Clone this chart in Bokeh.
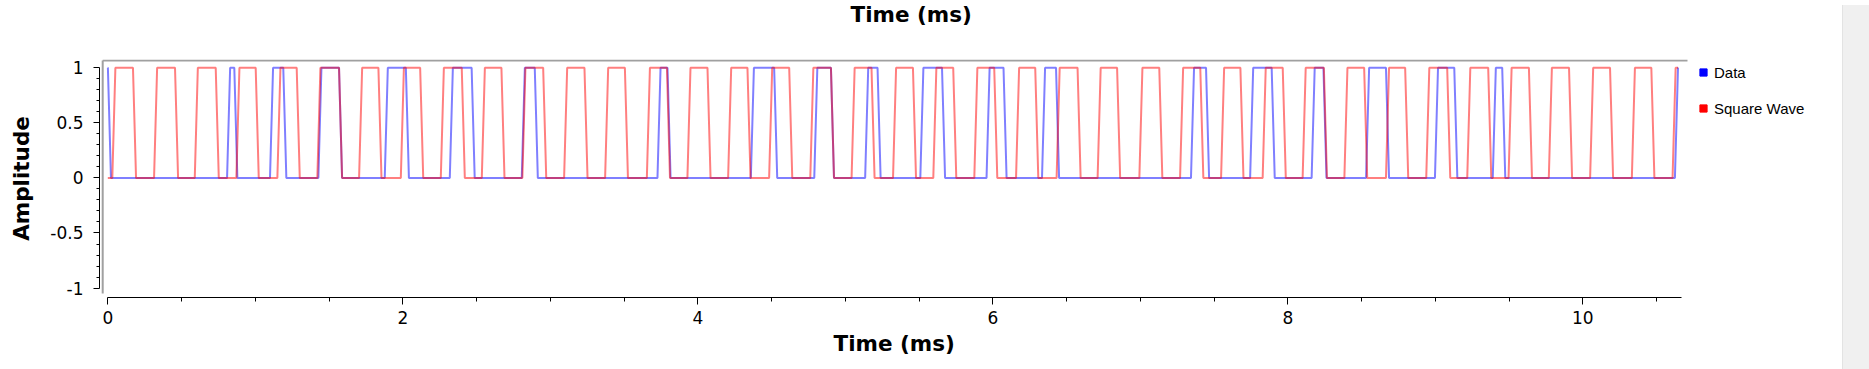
from bokeh.plotting import figure
from bokeh.models import Range1d, FixedTicker, Legend, LegendItem, Div, Title
from bokeh.layouts import row
from bokeh.embed import file_html
from bokeh.resources import INLINE

# ---------------- data ----------------
series_names = ["Data", "Square Wave"]
series_colors = ["#0000FF", "#FF0000"]

# Data: starts high, toggles at each listed time (ms)
data_start_level = 1
data_edges_ms = [0.011, 0.819, 0.868, 1.110, 1.200, 1.438, 1.578, 1.888, 2.031,
                 2.329, 2.477, 2.817, 2.905, 3.737, 3.805, 4.370, 4.528, 4.800,
                 4.913, 5.145, 5.229, 5.519, 5.666, 5.968, 6.083, 6.344, 6.439,
                 7.354, 7.456, 7.755, 7.901, 8.172, 8.252, 8.541, 8.676, 9.008,
                 9.139, 9.400, 9.464, 10.635]

# Square wave: starts low, toggles at each listed time (ms)
square_start_level = 0
square_edges_ms = [0.041, 0.181, 0.324, 0.466, 0.600, 0.742, 0.882, 1.013, 1.160,
                   1.291, 1.431, 1.578, 1.714, 1.845, 1.997, 2.128, 2.268, 2.410,
                   2.546, 2.679, 2.821, 2.962, 3.104, 3.242, 3.382, 3.516, 3.665,
                   3.801, 3.940, 4.076, 4.216, 4.347, 4.494, 4.630, 4.773, 4.913,
                   5.053, 5.188, 5.334, 5.469, 5.607, 5.742, 5.885, 6.020, 6.168,
                   6.298, 6.443, 6.585, 6.721, 6.853, 7.004, 7.139, 7.280, 7.417,
                   7.558, 7.689, 7.840, 7.976, 8.111, 8.255, 8.394, 8.528, 8.676,
                   8.806, 8.949, 9.091, 9.227, 9.369, 9.507, 9.645, 9.780, 9.917,
                   10.060, 10.195, 10.343, 10.475, 10.619]

t_end_ms = 10.646          # last sample
edge_half_ms = 0.0104      # half of one sample (48 kHz)
axis_end_ms = 10.667

x_ticks = [0, 2, 4, 6, 8, 10]
x_minor_ticks = [0.5, 1, 1.5, 2.5, 3, 3.5, 4.5, 5, 5.5, 6.5, 7, 7.5, 8.5, 9, 9.5, 10.5]
y_ticks = [-1, -0.5, 0, 0.5, 1]
y_tick_labels = ["-1", "-0.5", "0", "0.5", "1"]
y_minor_ticks = [-0.9, -0.8, -0.7, -0.6, -0.4, -0.3, -0.2, -0.1,
                 0.1, 0.2, 0.3, 0.4, 0.6, 0.7, 0.8, 0.9]

title_text = "Time (ms)"
x_label = "Time (ms)"
y_label = "Amplitude"


def step_path(start, edges, t_end, half):
    xs, ys, lvl = [0.0], [float(start)], start
    for t in edges:
        xs.extend([t - half, t + half])
        ys.extend([lvl, 1 - lvl])
        lvl = 1 - lvl
    xs.append(t_end)
    ys.append(lvl)
    return xs, ys


# ---------------- figure ----------------
# the frame runs to the right edge of the figure so the legend (inside it) is not clipped
W, H = 1837, 369
X0, X1 = -0.0563, 11.7268
Y0, Y1 = -1.0853, 1.0744
CANVAS_RIGHT = 10.7098     # right end of the grey canvas border

p = figure(width=W, height=H, output_backend="svg", toolbar_location=None,
           x_range=Range1d(X0, X1), y_range=Range1d(Y0, Y1),
           min_border_left=99, min_border_right=0,
           min_border_top=59, min_border_bottom=72)
p.outline_line_color = None
p.xgrid.visible = False
p.ygrid.visible = False
p.background_fill_color = "white"
p.border_fill_color = "white"

# canvas frame lines (top and left, grey)
FRAME_X = -0.0346
FRAME_TOP = 1.0653
FRAME_BOTTOM = -1.049
p.segment(x0=[FRAME_X, FRAME_X], y0=[FRAME_TOP, FRAME_TOP],
          x1=[CANVAS_RIGHT, FRAME_X], y1=[FRAME_TOP, FRAME_BOTTOM],
          line_color="#a0a0a0", line_width=2)

dx, dy = step_path(data_start_level, data_edges_ms, t_end_ms, edge_half_ms)
sx, sy = step_path(square_start_level, square_edges_ms, t_end_ms, edge_half_ms)
p.line(dx, dy, line_color=series_colors[0], line_width=2, line_alpha=0.5)
p.line(sx, sy, line_color=series_colors[1], line_width=2, line_alpha=0.5)

# legend keys (square markers; their single point lies outside the visible range)
OFF = -100
k0 = p.scatter(x=[OFF], y=[OFF], marker="square", color=series_colors[0], size=7)
k1 = p.scatter(x=[OFF], y=[OFF], marker="square", color=series_colors[1], size=7)
legend = Legend(items=[LegendItem(label=series_names[0], renderers=[k0]),
                       LegendItem(label=series_names[1], renderers=[k1])],
                location=(1595, 180), orientation="vertical",
                border_line_color=None, background_fill_alpha=0,
                padding=0, margin=0, spacing=18,
                glyph_width=18, glyph_height=18, label_height=18,
                label_standoff=2,
                label_text_font="Liberation Sans", label_text_font_size="15px",
                label_text_color="black")
p.add_layout(legend, "center")

# top title: a white (invisible) spacer next to the frame, then the title above it
p.title.text = ""
spacer = Title(text=".", text_color="white", text_font_size="10px", standoff=21)
p.add_layout(spacer, "above")
top_title = Title(text=title_text, align="left", offset=751, standoff=0,
                  vertical_align="top", text_font="DejaVu Sans",
                  text_font_size="21.5px", text_font_style="bold",
                  text_color="black")
p.add_layout(top_title, "above")

# axes
xa = p.xaxis[0]
ya = p.yaxis[0]
xa.ticker = FixedTicker(ticks=x_ticks, minor_ticks=x_minor_ticks)
ya.ticker = FixedTicker(ticks=y_ticks, minor_ticks=y_minor_ticks)
ya.major_label_overrides = {k: v for k, v in zip(y_ticks, y_tick_labels)}
xa.bounds = (0, axis_end_ms)
ya.bounds = (-1, 1)
ya.axis_label = y_label
for ax in (xa, ya):
    ax.axis_line_color = "black"
    ax.axis_line_width = 1
    ax.major_tick_line_color = "black"
    ax.minor_tick_line_color = "black"
    ax.major_tick_in = 0
    ax.minor_tick_in = 0
    ax.major_label_text_font = "DejaVu Sans"
    ax.major_label_text_font_size = "17px"
    ax.major_label_text_color = "black"
    ax.axis_label_text_font = "DejaVu Sans"
    ax.axis_label_text_font_size = "21.5px"
    ax.axis_label_text_font_style = "bold"
    ax.axis_label_text_color = "black"
xa.major_tick_out = 7
xa.minor_tick_out = 4
xa.major_label_standoff = 6
ya.major_tick_out = 6
ya.minor_tick_out = 3
ya.major_label_standoff = 10
ya.axis_label_standoff = 13

# bottom axis title, centred under the time axis (not under the widened frame)
bottom_title = Title(text=x_label, align="left", offset=734, standoff=8,
                     vertical_align="top", text_font="DejaVu Sans",
                     text_font_size="21.5px", text_font_style="bold",
                     text_color="black")
p.add_layout(bottom_title, "below")

side = Div(text="", width=32, height=H,
           styles={"background-color": "#f0f0f0", "border-left": "1px solid #e3e3e3"})

layout = row(p, side)
open("out.html", "w").write(file_html(layout, INLINE))
